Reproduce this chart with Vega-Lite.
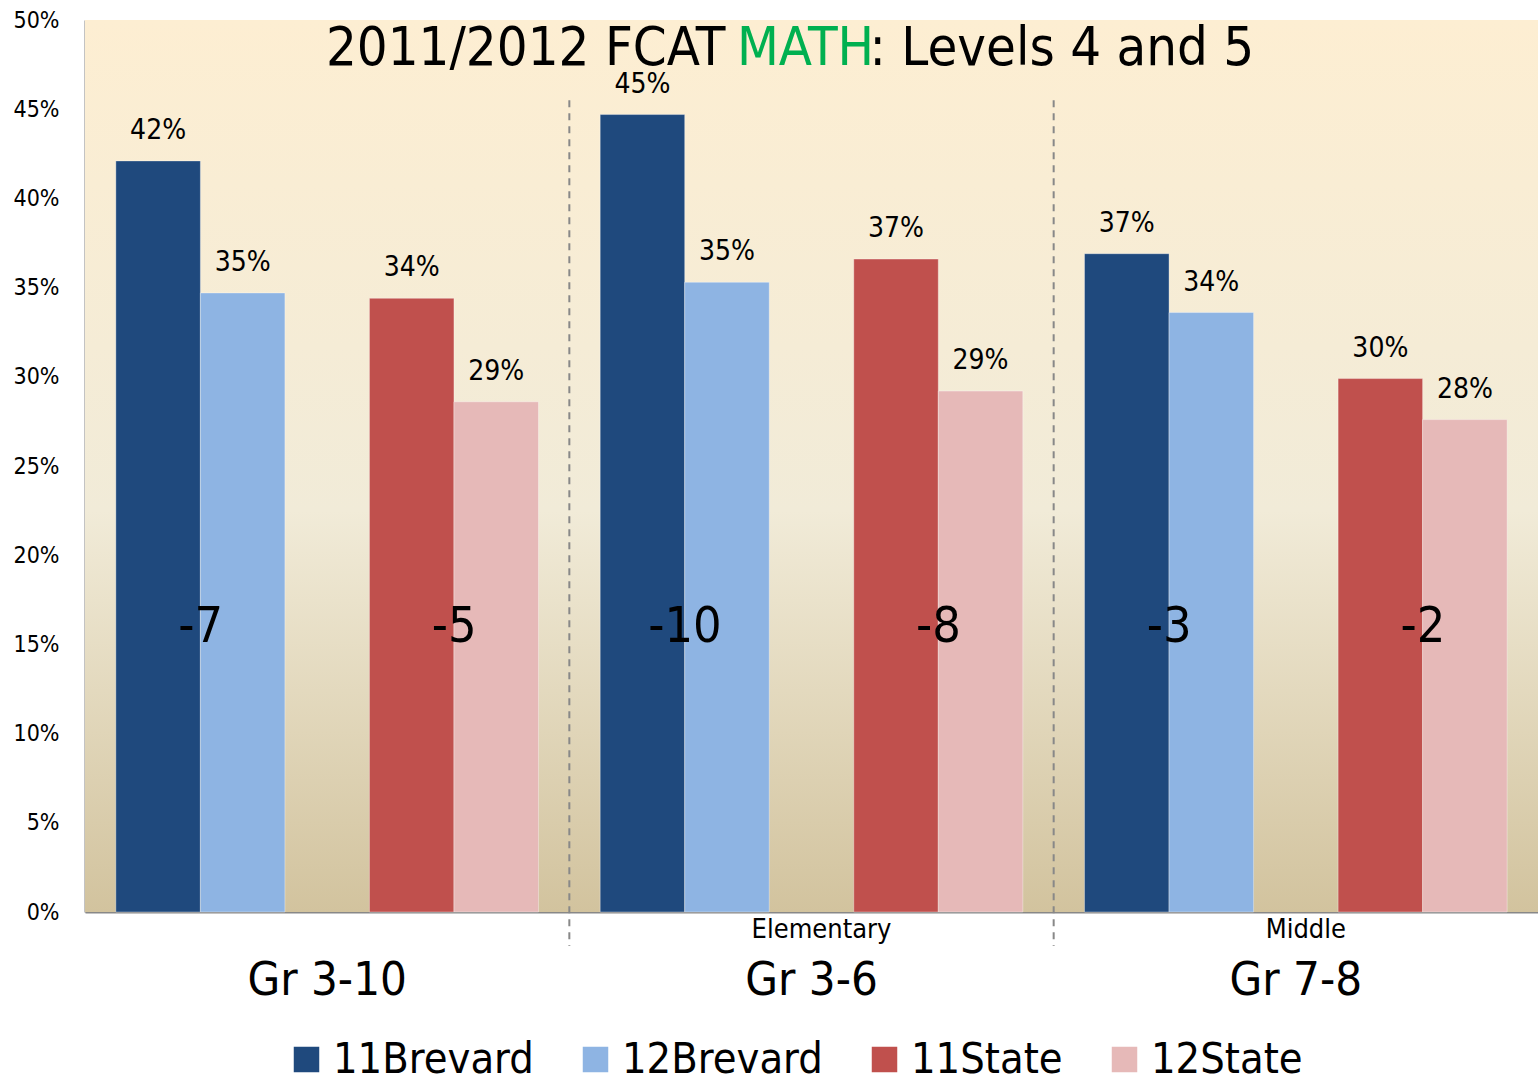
{
  "$schema": "https://vega.github.io/schema/vega-lite/v6.json",
  "width": 1453,
  "height": 892,
  "autosize": "none",
  "padding": {"left": 85, "top": 20, "right": 0, "bottom": 173},
  "background": "white",
  "config": {
    "font": "DejaVu Sans Condensed, DejaVu Sans, sans-serif",
    "view": {"stroke": null}
  },
  "datasets": {
    "bars": [
      {"group": "Gr 3-10", "series": "11Brevard", "value": 42.1},
      {"group": "Gr 3-10", "series": "12Brevard", "value": 34.7},
      {"group": "Gr 3-10", "series": "11State", "value": 34.4},
      {"group": "Gr 3-10", "series": "12State", "value": 28.6},
      {"group": "Gr 3-6", "series": "11Brevard", "value": 44.7},
      {"group": "Gr 3-6", "series": "12Brevard", "value": 35.3},
      {"group": "Gr 3-6", "series": "11State", "value": 36.6},
      {"group": "Gr 3-6", "series": "12State", "value": 29.2},
      {"group": "Gr 7-8", "series": "11Brevard", "value": 36.9},
      {"group": "Gr 7-8", "series": "12Brevard", "value": 33.6},
      {"group": "Gr 7-8", "series": "11State", "value": 29.9},
      {"group": "Gr 7-8", "series": "12State", "value": 27.6}
    ],
    "diffs": [
      {"group": "Gr 3-10", "series": "11Brevard", "diff": "-7"},
      {"group": "Gr 3-10", "series": "11State", "diff": "-5"},
      {"group": "Gr 3-6", "series": "11Brevard", "diff": "-10"},
      {"group": "Gr 3-6", "series": "11State", "diff": "-8"},
      {"group": "Gr 7-8", "series": "11Brevard", "diff": "-3"},
      {"group": "Gr 7-8", "series": "11State", "diff": "-2"}
    ],
    "subs": [
      {"group": "Gr 3-6", "sub": "Elementary"},
      {"group": "Gr 7-8", "sub": "Middle"}
    ]
  },
  "layer": [
    {
      "data": {"values": [{"lo": 0, "hi": 50}]},
      "mark": {
        "type": "rect",
        "fill": {
          "gradient": "linear",
          "x1": 0, "y1": 0, "x2": 0, "y2": 1,
          "stops": [
            {"offset": 0, "color": "#FDEED2"},
            {"offset": 0.55, "color": "#F1EBD8"},
            {"offset": 1, "color": "#D2C39E"}
          ]
        }
      },
      "encoding": {
        "y": {"field": "lo", "type": "quantitative", "scale": {"domain": [0, 50]}},
        "y2": {"field": "hi"}
      }
    },
    {
      "data": {"name": "bars"},
      "mark": {"type": "bar", "stroke": "#ffffff", "strokeOpacity": 0.35, "strokeWidth": 1},
      "encoding": {
        "x": {
          "field": "group", "type": "nominal",
          "sort": ["Gr 3-10", "Gr 3-6", "Gr 7-8"],
          "scale": {"paddingInner": 0, "paddingOuter": 0},
          "axis": {
            "title": null, "labelAngle": 0, "labelFontSize": 47, "labelColor": "#000", "labelLimit": 0,
            "ticks": false, "labelPadding": 45, "domainColor": "#888", "domainWidth": 2
          }
        },
        "xOffset": {
          "field": "series", "type": "nominal",
          "scale": {"domain": ["11Brevard", "12Brevard", "gap", "11State", "12State"], "paddingInner": 0, "paddingOuter": 0.365}
        },
        "y": {
          "field": "value", "type": "quantitative",
          "scale": {"domain": [0, 50]},
          "axis": {
            "title": null, "values": [0, 5, 10, 15, 20, 25, 30, 35, 40, 45, 50],
            "labelExpr": "datum.value + '%'", "labelFontSize": 23, "labelColor": "#000",
            "ticks": false, "grid": false, "labelPadding": 26, "domainColor": "#888", "domainWidth": 2
          }
        },
        "color": {
          "field": "series", "type": "nominal",
          "scale": {"domain": ["11Brevard", "12Brevard", "11State", "12State"], "range": ["#1F497D", "#8EB4E3", "#C0504D", "#E6B9B8"]},
          "legend": {
            "title": null, "orient": "none", "legendX": 200, "legendY": 1018, "direction": "horizontal",
            "gridAlign": "none",
            "symbolType": "square", "symbolSize": 650, "symbolStrokeWidth": 0, "symbolOpacity": 1,
            "labelFontSize": 43, "labelColor": "#000", "labelOffset": 5, "columnPadding": 40,
            "labelLimit": 400
          }
        }
      }
    },
    {
      "data": {"name": "bars"},
      "transform": [{"calculate": "format(datum.value, '.0f') + '%'", "as": "label"}],
      "mark": {"type": "text", "fontSize": 28, "baseline": "alphabetic", "dy": -22, "color": "#000"},
      "encoding": {
        "x": {"field": "group", "type": "nominal", "sort": ["Gr 3-10", "Gr 3-6", "Gr 7-8"]},
        "xOffset": {"field": "series", "type": "nominal"},
        "y": {"field": "value", "type": "quantitative"},
        "text": {"field": "label"}
      }
    },
    {
      "data": {"name": "diffs"},
      "mark": {"type": "text", "fontSize": 50, "baseline": "middle", "dx": 42.5, "color": "#000"},
      "encoding": {
        "x": {"field": "group", "type": "nominal", "sort": ["Gr 3-10", "Gr 3-6", "Gr 7-8"]},
        "xOffset": {"field": "series", "type": "nominal"},
        "y": {"datum": 16},
        "text": {"field": "diff"}
      }
    },
    {
      "data": {"name": "subs"},
      "mark": {"type": "rule", "strokeDash": [7, 6], "strokeWidth": 2, "color": "#888", "clip": false},
      "encoding": {
        "x": {"field": "group", "type": "nominal", "sort": ["Gr 3-10", "Gr 3-6", "Gr 7-8"], "bandPosition": 0},
        "y": {"datum": 45.5},
        "y2": {"datum": -1.9}
      }
    },
    {
      "data": {"name": "subs"},
      "mark": {"type": "text", "fontSize": 27, "baseline": "middle", "color": "#000", "clip": false, "dx": 10},
      "encoding": {
        "x": {"field": "group", "type": "nominal", "sort": ["Gr 3-10", "Gr 3-6", "Gr 7-8"]},
        "y": {"datum": -1.0},
        "text": {"field": "sub"}
      }
    },
    {
      "data": {"values": [{"part": "2011/2012 FCAT"}]},
      "mark": {"type": "text", "fontSize": 54, "baseline": "middle", "align": "right", "dx": -86, "color": "#000"},
      "encoding": {"x": {"datum": "Gr 3-6"}, "y": {"datum": 48.4}, "text": {"field": "part"}}
    },
    {
      "data": {"values": [{"part": "MATH"}]},
      "mark": {"type": "text", "fontSize": 54, "baseline": "middle", "align": "center", "dx": -6, "color": "#00B050"},
      "encoding": {"x": {"datum": "Gr 3-6"}, "y": {"datum": 48.4}, "text": {"field": "part"}}
    },
    {
      "data": {"values": [{"part": ": Levels 4 and 5"}]},
      "mark": {"type": "text", "fontSize": 54, "baseline": "middle", "align": "left", "dx": 58, "color": "#000"},
      "encoding": {"x": {"datum": "Gr 3-6"}, "y": {"datum": 48.4}, "text": {"field": "part"}}
    }
  ]
}
